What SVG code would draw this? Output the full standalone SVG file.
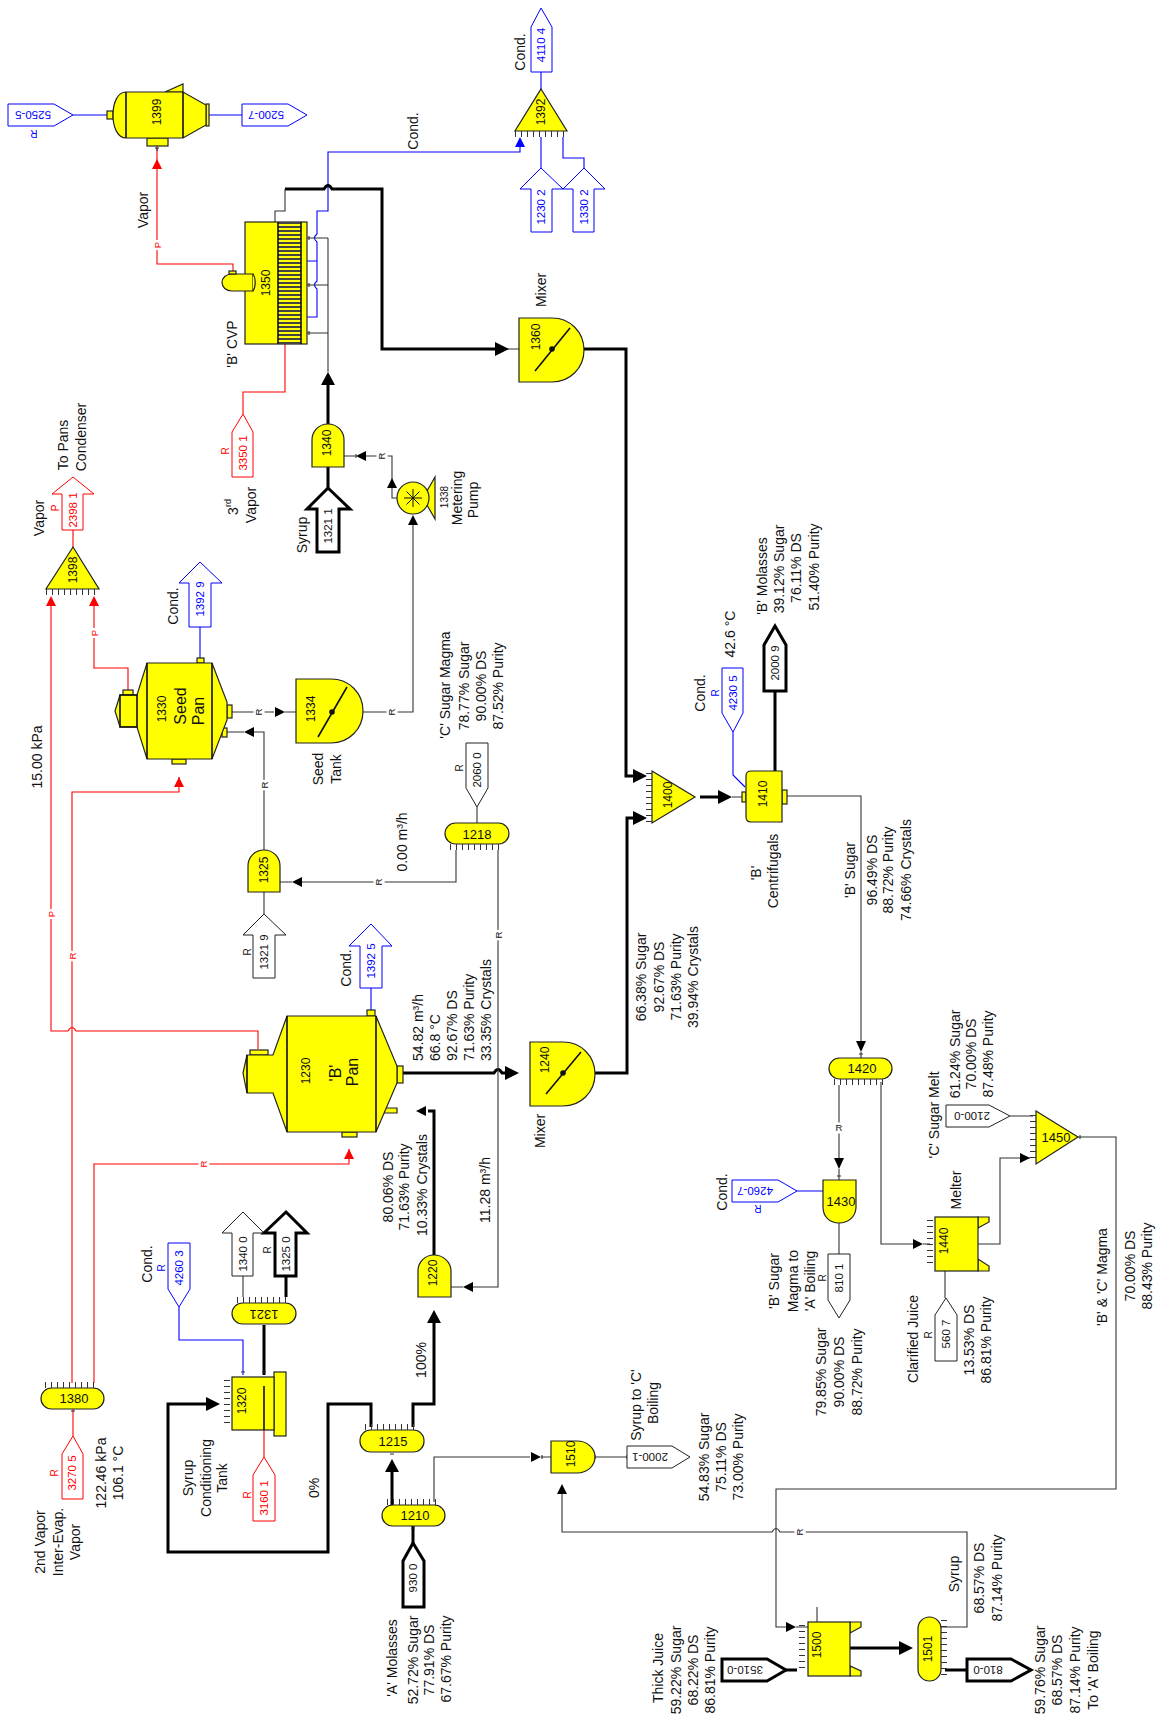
<svg xmlns="http://www.w3.org/2000/svg" width="1160" height="1720" viewBox="0 0 1160 1720">
<style>
text{font-family:"Liberation Sans",Arial,sans-serif;text-anchor:middle;dominant-baseline:central;fill:#111}
.l{font-size:14px}
.st{text-anchor:start}
.b{font-size:16px}
.n{font-size:12px}
.h{font-size:13px}
.t{font-size:11.5px}
.s{font-size:10px}
.rl{font-size:9.5px;paint-order:stroke;stroke:#fff;stroke-width:5px}
.red{color:#f00}
.blu{color:#00f}
text.red{fill:#f00}
text.blu{fill:#00f}
.eq{fill:#ff0;stroke:#222;stroke-width:1.2}
.nf{fill:none;stroke:#111;stroke-width:1.6}
.tag{fill:#fff;stroke:#222;stroke-width:1}
.tag.tk{stroke:#000;stroke-width:3}
.tag.red{stroke:#f00}
.tag.blu{stroke:#00f}
.c{fill:none;stroke-linejoin:miter}
.c1{stroke:#333;stroke-width:1.1}
.c3{stroke:#000;stroke-width:3}
.cr{stroke:#f00;stroke-width:1.1}
.cb{stroke:#00f;stroke-width:1.1}
.teeth{stroke:#333;stroke-width:6;stroke-dasharray:1 5;fill:none}
.a{fill:currentColor}
</style>
<defs>
<polygon id="u" class="a" points="0,0 -5,10 5,10"/>
<polygon id="d" class="a" points="0,0 -5,-10 5,-10"/>
<polygon id="r" class="a" points="0,0 -10,-5 -10,5"/>
<polygon id="q" class="a" points="0,0 10,-5 10,5"/>
<polygon id="U" class="a" points="0,0 -7,13 7,13"/>
<polygon id="R" class="a" points="0,0 -14,-7 -14,7"/>
<polygon id="D" class="a" points="0,0 -5,-11 5,-11"/>
</defs>

<g id="connectors" class="c">
<path class="c cr" d="M157 146V264H233V272M243 414V392H285V344M73 530V547M51 606V1031H68q4 -7 8 0H258V1049M94 606V668H128V690M72 1383V792H179V777M94 1383V1164H349V1149M73 1409V1436M264 1430V1457"/>
<path class="c cb" d="M307 317H317V289q-5 -4 0 -8V242q-5 -4 0 -8V211H328V152H520V147M307 261H317M200 627V658M371 988V1010M209 115H242M73 115H107M541 72V89M541 137V168M563 137V158H584V168M179 1307V1340H243V1375M733 732V775L745 787M797 1191H823"/>
<path class="c c3" d="M285 189H324q4 -7 8 0H382V349H495M584 349H626V776H633M595 1073H627V818H633M403 1073H494q4 -7 8 0H505M434 1255V1111H428M328 424V385M328 467V488M264 1325V1375M286 1276V1297M207 1404H168V1552H328V1404H371V1427M413 1427V1404H434V1322M392 1505V1472M413 1526V1543M700 797H718M775 691V771M850 1648H899M945 1670H967M786 1670H797"/>
<path class="c c1" d="M275 222V211H285V189M328 238V372M328 238H307M328 285H307M328 333H307M344 456H356M397 498H392V456H365M413 520V712H363M232 712H274M285 712H296M264 850V732H253M244 732H227M477 807V823M456 850V882H302M292 882H280M498 850V1287H472M463 1287H451M264 892V914M243 1276V1297M434 1502V1457H530M541 1457H551M595 1457H627M562 1494V1532H772q4 -7 8 0H967V1627H941M1078 1137H1116V1489H776V1627H786M796 1627H808M1010 1116H1033M881 1082V1244H914M923 1244H930M978 1244H1000V1158H1020M1025 1158H1030M945 1271V1298M785 796H861V1041M861 1052V1058M839 1085V1158M839 1169V1180M839 1223V1254M817 1607V1622M732 797H742M495 349H519"/>
<path class="c c1" d="M157 148v3M155 148h4M542 1455v4M309 236v4M309 283v4M309 331v4M356 454v4M359 1071v4M477 820h0M264 1372h0M262 1372h4M262 1427h4M241 1372h4M71 1411h4M411 1528h4M390 1454h4M595 1455v4M627 1455v4M1080 1135v4M841 1176h-4M859 1054h4"/>
<g class="red">
<use href="#u" x="157" y="159"/><use href="#u" x="51" y="596"/><use href="#u" x="94" y="596"/><use href="#u" x="179" y="777"/><use href="#u" x="349" y="1149"/>
</g>
<g class="blu"><use href="#u" x="520" y="137"/></g>
<g style="color:#000">
<use href="#U" x="328" y="372"/><use href="#R" x="509" y="349"/><use href="#R" x="647" y="776"/><use href="#R" x="647" y="818"/><use href="#R" x="519" y="1073"/><use href="#q" x="416" y="1111"/><use href="#R" x="220" y="1404"/><use href="#U" x="434" y="1310"/><use href="#U" x="392" y="1459"/><use href="#R" x="732" y="797"/><use href="#R" x="913" y="1648"/>
<use href="#q" x="356" y="456"/><use href="#u" x="392" y="478"/><use href="#u" x="413" y="515"/><use href="#r" x="285" y="712"/><use href="#q" x="244" y="732"/><use href="#q" x="292" y="882"/><use href="#q" x="463" y="1287"/><use href="#r" x="541" y="1457"/><use href="#u" x="562" y="1484"/><use href="#r" x="796" y="1627"/><use href="#r" x="923" y="1244"/><use href="#r" x="1030" y="1158"/><use href="#D" x="861" y="1052"/><use href="#D" x="839" y="1169"/>
</g>
<text class="rl red" transform="translate(157 245) rotate(-90)">P</text>
<text class="rl red" transform="translate(94 633) rotate(-90)">P</text>
<text class="rl red" transform="translate(51 914) rotate(-90)">P</text>
<text class="rl red" transform="translate(72 956) rotate(-90)">R</text>
<text class="rl red" transform="translate(203 1164) rotate(-90)">R</text>
<text class="rl" transform="translate(381 456) rotate(-90)">R</text>
<text class="rl" transform="translate(391 712) rotate(-90)">R</text>
<text class="rl" transform="translate(258 712) rotate(-90)">R</text>
<text class="rl" transform="translate(264 785) rotate(-90)">R</text>
<text class="rl" transform="translate(378 882) rotate(-90)">R</text>
<text class="rl" transform="translate(498 935) rotate(-90)">R</text>
<text class="rl" transform="translate(839 1127)">R</text>
<text class="rl" transform="translate(799 1532) rotate(-90)">R</text>
</g>

<g id="t-5250-5"><polygon class="tag blu" points="8,104 54,104 73,115 54,126 8,126"/><text class="t blu" transform="translate(33 115) rotate(180)">5250-5</text><text class="s blu" transform="translate(34 133) rotate(180)">R</text></g>
<g id="n1399">
<path class="eq" d="M165 92L183 84V92Z"/><rect class="eq" x="107" y="111" width="6" height="8"/><rect class="eq" x="147" y="138" width="21" height="8"/><rect class="eq" x="206" y="104" width="3" height="22"/>
<path class="eq" d="M126 92H183L206 105V125L183 138H126C118 138 113 128 113 115S118 92 126 92Z"/><path class="nf" d="M126 92V138M183 92V138"/>
<text class="n" transform="translate(157 112) rotate(-90)">1399</text></g>
<g id="t-5200-7"><polygon class="tag blu" points="242,104 288,104 307,115 288,126 242,126"/><text class="t blu" transform="translate(266 115) rotate(180)">5200-7</text></g>
<g id="t-4110"><polygon class="tag blu" points="541,8 552,27 552,72 531,72 531,27"/><text class="t blu" transform="translate(541 45) rotate(-90)">4110 4</text></g>
<g id="n1392"><polygon class="eq" points="541,89 567,131 515,131"/><line class="teeth" x1="515" y1="134" x2="567" y2="134"/><text class="n" transform="translate(541 112) rotate(-90)">1392</text></g>
<g id="t-1230-2"><polygon class="tag blu" points="541,168 563,189 552,189 552,232 531,232 531,189 520,189"/><text class="t blu" transform="translate(541 207) rotate(-90)">1230 2</text></g>
<g id="t-1330-2"><polygon class="tag blu" points="584,168 605,189 594,189 594,232 573,232 573,189 563,189"/><text class="t blu" transform="translate(584 207) rotate(-90)">1330 2</text></g>

<g id="n1350">
<rect class="eq" x="245" y="222" width="62" height="122"/>
<line x1="289.500" y1="222" x2="289.500" y2="344" stroke="#444" stroke-width="23" stroke-dasharray="2 2"/>
<path class="nf" d="M278 222V344M301 222V344"/>
<path class="eq" d="M253 274H232C226 274 222 278 222 282.500S226 291 232 291H253Z"/><path class="eq" d="M253 274C256 278 256 287 253 291"/><rect class="eq" x="229" y="271" width="7" height="3"/>
<text class="n" transform="translate(266 283) rotate(-90)">1350</text></g>
<g id="n1360"><path class="eq" d="M519 318H552C570 318 584 332 584 350S570 382 552 382H519Z"/><line class="nf" x1="535" y1="371" x2="570" y2="328"/><circle cx="552" cy="349" r="2.800" fill="#111"/><text class="n" transform="translate(536 337) rotate(-90)">1360</text></g>
<g id="n1340"><path class="eq" d="M312 467V440C312 431 319 424 328 424S344 431 344 440V467Z"/><text class="n" transform="translate(327 443) rotate(-90)">1340</text></g>
<g id="t-3350"><polygon class="tag red" points="243,414 253,432 253,477 232,477 232,432"/><text class="t red" transform="translate(243 453) rotate(-90)">3350 1</text><text class="s red" transform="translate(225 451) rotate(-90)">R</text></g>
<g id="t-1321-1"><polygon class="tag tk" points="328,488 350,509 339,509 339,552 317,552 317,509 307,509"/><text class="t" transform="translate(328 526) rotate(-90)">1321 1</text></g>
<g id="n1338"><polygon class="eq" points="435,477 435,519 423,498"/><circle class="eq" cx="413" cy="498" r="16"/><path class="nf" style="stroke-width:1" d="M404 498H422M413 489V507M406.500 491.500L419.500 504.500M419.500 491.500L406.500 504.500"/></g>
<g id="t-2398"><polygon class="tag red" points="73,477 94,494 83,494 83,530 62,530 62,494 52,494"/><text class="t red" transform="translate(73 510) rotate(-90)">2398 1</text><text class="s red" transform="translate(55 508) rotate(-90)">P</text></g>
<g id="n1398"><polygon class="eq" points="73,547 99,589 46,589"/><line class="teeth" x1="46" y1="592" x2="99" y2="592"/><text class="n" transform="translate(73 570) rotate(-90)">1398</text></g>
<g id="t-1392-9"><polygon class="tag blu" points="200,562 222,583 211,583 211,627 189,627 189,583 179,583"/><text class="t blu" transform="translate(200 599) rotate(-90)">1392 9</text></g>
<g id="n1330">
<rect class="eq" x="123" y="690" width="10" height="5"/><rect class="eq" x="197" y="658" width="7" height="5"/><rect class="eq" x="172" y="759" width="14" height="5"/><rect class="eq" x="227" y="705" width="5" height="13"/><rect class="eq" x="222" y="728" width="5" height="9"/>
<polygon class="eq" points="120,695 115,711 120,727 137,727 147,759 212,759 227,720 227,702 212,663 147,663 137,695"/>
<path class="nf" d="M147 663V759M212 663V759M120 695V727H137V695Z"/>
<text class="n" transform="translate(162 709) rotate(-90)">1330</text><text class="b" transform="translate(180 706) rotate(-90)">Seed</text><text class="b" transform="translate(198 711) rotate(-90)">Pan</text></g>
<g id="n1334"><path class="eq" d="M296 679H331C349 679 363 693 363 711S349 743 331 743H296Z"/><line class="nf" x1="318" y1="737" x2="347" y2="687"/><circle cx="332" cy="712" r="2.800" fill="#111"/><text class="n" transform="translate(311 709) rotate(-90)">1334</text></g>
<g id="t-2060"><polygon class="tag" points="466,743 488,743 488,788 477,807 466,788"/><text class="t" transform="translate(477 770) rotate(-90)">2060 0</text><text class="s" transform="translate(459 768) rotate(-90)">R</text></g>
<g id="n1218"><rect class="eq" x="445" y="823" width="64" height="21" rx="10.500"/><line class="teeth" x1="450" y1="847" x2="502" y2="847"/><text class="h" x="477" y="834">1218</text></g>
<g id="n1325"><path class="eq" d="M248 892V866C248 857 255 850 264 850S280 857 280 866V892Z"/><text class="n" transform="translate(264 870) rotate(-90)">1325</text></g>
<g id="t-1321-9"><polygon class="tag" points="264,914 286,935 275,935 275,978 253,978 253,935 243,935"/><text class="t" transform="translate(264 952) rotate(-90)">1321 9</text><text class="s" transform="translate(247 952) rotate(-90)">R</text></g>
<g id="t-1392-5"><polygon class="tag blu" points="371,924 392,946 382,946 382,988 360,988 360,946 349,946"/><text class="t blu" transform="translate(371 961) rotate(-90)">1392 5</text></g>
<g id="n1230">
<rect class="eq" x="250" y="1050" width="18" height="5"/><rect class="eq" x="367" y="1010" width="8" height="6"/><rect class="eq" x="342" y="1132" width="15" height="5"/><rect class="eq" x="397" y="1066" width="6" height="17"/><polygon class="eq" points="384,1108 397,1108 397,1113 382,1113"/>
<polygon class="eq" points="247,1055 243,1073 247,1093 273,1093 287,1132 376,1132 397,1083 397,1066 376,1016 287,1016 273,1055"/>
<path class="nf" d="M287 1016V1132M376 1016V1132M247 1055V1093"/>
<text class="n" transform="translate(306 1071) rotate(-90)">1230</text><text class="b" transform="translate(335 1073) rotate(-90)">'B'</text><text class="b" transform="translate(352 1072) rotate(-90)">Pan</text></g>
<g id="n1240"><path class="eq" d="M530 1042H563C581 1042 595 1056 595 1074S581 1106 563 1106H530Z"/><line class="nf" x1="546" y1="1094" x2="581" y2="1052"/><circle cx="563" cy="1073" r="2.800" fill="#111"/><text class="n" transform="translate(545 1060) rotate(-90)">1240</text></g>
<g id="t-1340-0"><polygon class="tag" points="243,1212 264,1233 253,1233 253,1276 232,1276 232,1233 222,1233"/><text class="t" transform="translate(243 1254) rotate(-90)">1340 0</text></g>
<g id="t-1325-0"><polygon class="tag tk" points="286,1212 307,1233 296,1233 296,1276 275,1276 275,1233 264,1233"/><text class="t" transform="translate(286 1254) rotate(-90)">1325 0</text><text class="s" transform="translate(267 1250) rotate(-90)">R</text></g>
<g id="t-4260-3"><polygon class="tag blu" points="168,1243 190,1243 190,1289 179,1307 168,1289"/><text class="t blu" transform="translate(179 1268) rotate(-90)">4260 3</text><text class="s blu" transform="translate(161 1268) rotate(-90)">R</text></g>
<g id="n1321"><rect class="eq" x="232" y="1303" width="64" height="21" rx="10.500"/><line class="teeth" x1="237" y1="1300" x2="290" y2="1300"/><text class="h" transform="translate(264 1314) rotate(180)">1321</text></g>
<g id="n1320"><rect class="eq" x="274" y="1372" width="12" height="64"/><rect class="eq" x="232" y="1377" width="42" height="53"/><line class="teeth" x1="227" y1="1380" x2="227" y2="1428"/><line class="nf" x1="264" y1="1386" x2="264" y2="1430"/><text class="n" transform="translate(242 1401) rotate(-90)">1320</text></g>
<g id="t-3160"><polygon class="tag red" points="264,1457 275,1475 275,1521 253,1521 253,1475"/><text class="t red" transform="translate(264 1498) rotate(-90)">3160 1</text><text class="s red" transform="translate(247 1495) rotate(-90)">R</text></g>
<g id="n1380"><rect class="eq" x="41" y="1388" width="63" height="21" rx="10.500"/><line class="teeth" x1="45" y1="1385" x2="97" y2="1385"/><text class="h" x="74" y="1398">1380</text></g>
<g id="t-3270"><polygon class="tag red" points="73,1436 83,1454 83,1499 62,1499 62,1454"/><text class="t red" transform="translate(72 1473) rotate(-90)">3270 5</text><text class="s red" transform="translate(54 1473) rotate(-90)">R</text></g>
<g id="n1220"><path class="eq" d="M418 1297V1271C418 1262 425 1255 434 1255S451 1262 451 1271V1297Z"/><text class="n" transform="translate(433 1273) rotate(-90)">1220</text></g>
<g id="n1215"><rect class="eq" x="360" y="1430" width="64" height="22" rx="10.500"/><line class="teeth" x1="365" y1="1427" x2="416" y2="1427"/><text class="h" x="393" y="1441">1215</text></g>
<g id="n1210"><rect class="eq" x="382" y="1505" width="63" height="21" rx="10.500"/><line class="teeth" x1="387" y1="1502" x2="437" y2="1502"/><text class="h" x="415" y="1515">1210</text></g>
<g id="t-930"><polygon class="tag tk" points="413,1543 424,1561 424,1607 403,1607 403,1561"/><text class="t" transform="translate(413 1578) rotate(-90)">930 0</text></g>
<g id="n1510"><path class="eq" d="M551 1441H577C587 1441 595 1448 595 1457S587 1473 577 1473H551Z"/><text class="n" transform="translate(571 1454) rotate(-90)">1510</text></g>
<g id="t-2000-1"><polygon class="tag" points="627,1446 672,1446 690,1457 672,1468 627,1468"/><text class="t" transform="translate(650 1457) rotate(180)">2000-1</text></g>
<g id="n1500"><path class="eq" d="M850 1622H861V1627L850 1633ZM850 1676H861V1671L850 1666Z"/><rect class="eq" x="808" y="1622" width="42" height="54"/><line class="teeth" x1="802" y1="1625" x2="802" y2="1673"/><text class="n" transform="translate(817 1645) rotate(-90)">1500</text></g>
<g id="n1501"><rect class="eq" x="918" y="1617" width="23" height="64" rx="11.500"/><line class="teeth" x1="944" y1="1620" x2="944" y2="1676"/><text class="n" transform="translate(928 1649) rotate(-90)">1501</text></g>
<g id="t-810-0"><polygon class="tag tk" points="967,1659 1011,1659 1031,1670 1011,1681 967,1681"/><text class="t" transform="translate(988 1670) rotate(180)">810-0</text></g>
<g id="t-3510-0"><polygon class="tag tk" points="722,1659 767,1659 786,1670 767,1681 722,1681"/><text class="t" transform="translate(745 1670) rotate(180)">3510-0</text></g>
<g id="n1400"><polygon class="eq" points="652,771 695,797 652,823"/><line class="teeth" x1="649" y1="773" x2="649" y2="823"/><text class="n" transform="translate(668 795) rotate(-90)">1400</text></g>
<g id="n1410"><rect class="eq" x="782" y="790" width="5" height="14"/><rect class="eq" x="742" y="792" width="4" height="10"/><path class="eq" d="M782 771H751Q746 771 746 776V817Q746 822 751 822H782Z"/><text class="n" transform="translate(763 794) rotate(-90)">1410</text></g>
<g id="t-4230"><polygon class="tag blu" points="722,668 743,668 743,713 733,732 722,713"/><text class="t blu" transform="translate(733 693) rotate(-90)">4230 5</text><text class="s blu" transform="translate(715 693) rotate(-90)">R</text></g>
<g id="t-2000-9"><polygon class="tag tk" points="775,626 786,645 786,691 764,691 764,645"/><text class="t" transform="translate(775 663) rotate(-90)">2000 9</text></g>
<g id="n1420"><rect class="eq" x="829" y="1058" width="63" height="21" rx="10.500"/><line class="teeth" x1="834" y1="1082" x2="886" y2="1082"/><text class="h" x="862" y="1068">1420</text></g>
<g id="n1430"><path class="eq" d="M823 1180H856V1207C856 1216 849 1223 839 1223S823 1216 823 1207Z"/><text class="h" x="841" y="1201">1430</text></g>
<g id="t-4260-7"><polygon class="tag blu" points="732,1180 778,1180 797,1191 778,1202 732,1202"/><text class="t blu" transform="translate(755 1191) rotate(180)">4260-7</text><text class="s blu" transform="translate(758 1208) rotate(180)">R</text></g>
<g id="t-810-1"><polygon class="tag" points="828,1254 850,1254 850,1300 839,1318 828,1300"/><text class="t" transform="translate(839 1278) rotate(-90)">810 1</text><text class="s" transform="translate(822 1278) rotate(-90)">R</text></g>
<g id="n1440"><path class="eq" d="M978 1217H989V1222L978 1228ZM978 1271H989V1266L978 1259Z"/><rect class="eq" x="935" y="1217" width="43" height="54"/><line class="teeth" x1="930" y1="1220" x2="930" y2="1268"/><text class="n" transform="translate(944 1241) rotate(-90)">1440</text></g>
<g id="t-560"><polygon class="tag" points="946,1298 957,1315 957,1361 935,1361 935,1315"/><text class="t" transform="translate(946 1334) rotate(-90)">560 7</text><text class="s" transform="translate(928 1335) rotate(-90)">R</text></g>
<g id="n1450"><polygon class="eq" points="1036,1111 1078,1137 1036,1164"/><line class="teeth" x1="1033" y1="1115" x2="1033" y2="1162"/><text class="h" x="1056" y="1137">1450</text></g>
<g id="t-2100"><polygon class="tag" points="946,1105 989,1105 1010,1116 989,1127 946,1127"/><text class="t" transform="translate(972 1116) rotate(180)">2100-0</text></g>

<g id="labels" class="l">
<text class="l" transform="translate(520 52) rotate(-90)">Cond.</text>
<text class="l" transform="translate(413 131) rotate(-90)">Cond.</text>
<text class="l" transform="translate(143 210) rotate(-90)">Vapor</text>
<text class="l" transform="translate(232 344) rotate(-90)">'B' CVP</text>
<text class="l" transform="translate(541 290) rotate(-90)">Mixer</text>
<text class="l" transform="translate(39 518) rotate(-90)">Vapor</text>
<text class="l" transform="translate(63 445) rotate(-90)">To Pans</text>
<text class="l" transform="translate(81 437) rotate(-90)">Condenser</text>
<text class="l" transform="translate(233 507) rotate(-90)">3<tspan dy="-5" font-size="9">rd</tspan></text>
<text class="l" transform="translate(251 505) rotate(-90)">Vapor</text>
<text class="l" transform="translate(302 535) rotate(-90)">Syrup</text>
<text class="s" transform="translate(444 497) rotate(-90)">1338</text>
<text class="l" transform="translate(457 498) rotate(-90)">Metering</text>
<text class="l" transform="translate(473 500) rotate(-90)">Pump</text>
<text class="l" transform="translate(173 606) rotate(-90)">Cond.</text>
<text class="l" transform="translate(318 769) rotate(-90)">Seed</text>
<text class="l" transform="translate(336 769) rotate(-90)">Tank</text>
<text class="l" transform="translate(37 757) rotate(-90)">15.00 kPa</text>
<text class="l" transform="translate(445 685) rotate(-90)">'C' Sugar Magma</text>
<text class="l" transform="translate(464 686) rotate(-90)">78.77% Sugar</text>
<text class="l" transform="translate(481 686) rotate(-90)">90.00% DS</text>
<text class="l" transform="translate(498 686) rotate(-90)">87.52% Purity</text>
<text class="l" transform="translate(402 842) rotate(-90)">0.00 m³/h</text>
<text class="l" transform="translate(346 968) rotate(-90)">Cond.</text>
<text class="l st" transform="translate(418 1061) rotate(-90)">54.82 m³/h</text>
<text class="l st" transform="translate(435 1061) rotate(-90)">66.8 °C</text>
<text class="l st" transform="translate(452 1061) rotate(-90)">92.67% DS</text>
<text class="l st" transform="translate(469 1061) rotate(-90)">71.63% Purity</text>
<text class="l st" transform="translate(486 1061) rotate(-90)">33.35% Crystals</text>
<text class="l" transform="translate(388 1187) rotate(-90)">80.06% DS</text>
<text class="l" transform="translate(404 1187) rotate(-90)">71.63% Purity</text>
<text class="l" transform="translate(422 1185) rotate(-90)">10.33% Crystals</text>
<text class="l" transform="translate(485 1190) rotate(-90)">11.28 m³/h</text>
<text class="l" transform="translate(147 1264) rotate(-90)">Cond.</text>
<text class="l" transform="translate(188 1478) rotate(-90)">Syrup</text>
<text class="l" transform="translate(206 1478) rotate(-90)">Conditioning</text>
<text class="l" transform="translate(222 1478) rotate(-90)">Tank</text>
<text class="l" transform="translate(314 1488) rotate(-90)">0%</text>
<text class="l" transform="translate(421 1360) rotate(-90)">100%</text>
<text class="l" transform="translate(40 1542) rotate(-90)">2nd Vapor</text>
<text class="l" transform="translate(58 1542) rotate(-90)">Inter-Evap.</text>
<text class="l" transform="translate(75 1542) rotate(-90)">Vapor</text>
<text class="l" transform="translate(101 1473) rotate(-90)">122.46 kPa</text>
<text class="l" transform="translate(118 1473) rotate(-90)">106.1 °C</text>
<text class="l" transform="translate(392 1658) rotate(-90)">'A' Molasses</text>
<text class="l" transform="translate(413 1660) rotate(-90)">52.72% Sugar</text>
<text class="l" transform="translate(429 1660) rotate(-90)">77.91% DS</text>
<text class="l" transform="translate(446 1659) rotate(-90)">67.67% Purity</text>
<text class="l" transform="translate(636 1405) rotate(-90)">Syrup to 'C'</text>
<text class="l" transform="translate(653 1403) rotate(-90)">Boiling</text>
<text class="l" transform="translate(704 1457) rotate(-90)">54.83% Sugar</text>
<text class="l" transform="translate(721 1457) rotate(-90)">75.11% DS</text>
<text class="l" transform="translate(738 1457) rotate(-90)">73.00% Purity</text>
<text class="l" transform="translate(658 1668) rotate(-90)">Thick Juice</text>
<text class="l" transform="translate(676 1670) rotate(-90)">59.22% Sugar</text>
<text class="l" transform="translate(693 1670) rotate(-90)">68.22% DS</text>
<text class="l" transform="translate(710 1670) rotate(-90)">86.81% Purity</text>
<text class="l" transform="translate(1040 1670) rotate(-90)">59.76% Sugar</text>
<text class="l" transform="translate(1057 1670) rotate(-90)">68.57% DS</text>
<text class="l" transform="translate(1075 1670) rotate(-90)">87.14% Purity</text>
<text class="l" transform="translate(1093 1670) rotate(-90)">To 'A' Boiling</text>
<text class="l" transform="translate(954 1574) rotate(-90)">Syrup</text>
<text class="l" transform="translate(979 1578) rotate(-90)">68.57% DS</text>
<text class="l" transform="translate(997 1578) rotate(-90)">87.14% Purity</text>
<text class="l" transform="translate(700 693) rotate(-90)">Cond.</text>
<text class="l" transform="translate(730 634) rotate(-90)">42.6 °C</text>
<text class="l" transform="translate(762 576) rotate(-90)">'B' Molasses</text>
<text class="l" transform="translate(779 569) rotate(-90)">39.12% Sugar</text>
<text class="l" transform="translate(796 568) rotate(-90)">76.11% DS</text>
<text class="l" transform="translate(814 567) rotate(-90)">51.40% Purity</text>
<text class="l" transform="translate(756 873) rotate(-90)">'B'</text>
<text class="l" transform="translate(773 871) rotate(-90)">Centrifugals</text>
<text class="l" transform="translate(850 870) rotate(-90)">'B' Sugar</text>
<text class="l" transform="translate(872 870) rotate(-90)">96.49% DS</text>
<text class="l" transform="translate(888 870) rotate(-90)">88.72% Purity</text>
<text class="l" transform="translate(906 870) rotate(-90)">74.66% Crystals</text>
<text class="l" transform="translate(540 1131) rotate(-90)">Mixer</text>
<text class="l" transform="translate(641 977) rotate(-90)">66.38% Sugar</text>
<text class="l" transform="translate(659 977) rotate(-90)">92.67% DS</text>
<text class="l" transform="translate(676 977) rotate(-90)">71.63% Purity</text>
<text class="l" transform="translate(693 977) rotate(-90)">39.94% Crystals</text>
<text class="l" transform="translate(934 1115) rotate(-90)">'C' Sugar Melt</text>
<text class="l" transform="translate(955 1054) rotate(-90)">61.24% Sugar</text>
<text class="l" transform="translate(971 1054) rotate(-90)">70.00% DS</text>
<text class="l" transform="translate(988 1054) rotate(-90)">87.48% Purity</text>
<text class="l" transform="translate(956 1190) rotate(-90)">Melter</text>
<text class="l" transform="translate(722 1192) rotate(-90)">Cond.</text>
<text class="l" transform="translate(774 1281) rotate(-90)">'B' Sugar</text>
<text class="l" transform="translate(793 1281) rotate(-90)">Magma to</text>
<text class="l" transform="translate(810 1281) rotate(-90)">'A' Boiling</text>
<text class="l" transform="translate(821 1372) rotate(-90)">79.85% Sugar</text>
<text class="l" transform="translate(839 1372) rotate(-90)">90.00% DS</text>
<text class="l" transform="translate(857 1372) rotate(-90)">88.72% Purity</text>
<text class="l" transform="translate(913 1339) rotate(-90)">Clarified Juice</text>
<text class="l" transform="translate(969 1340) rotate(-90)">13.53% DS</text>
<text class="l" transform="translate(986 1340) rotate(-90)">86.81% Purity</text>
<text class="l" transform="translate(1102 1277) rotate(-90)">'B' &amp; 'C' Magma</text>
<text class="l" transform="translate(1130 1266) rotate(-90)">70.00% DS</text>
<text class="l" transform="translate(1147 1266) rotate(-90)">88.43% Purity</text>
</g>
</svg>
